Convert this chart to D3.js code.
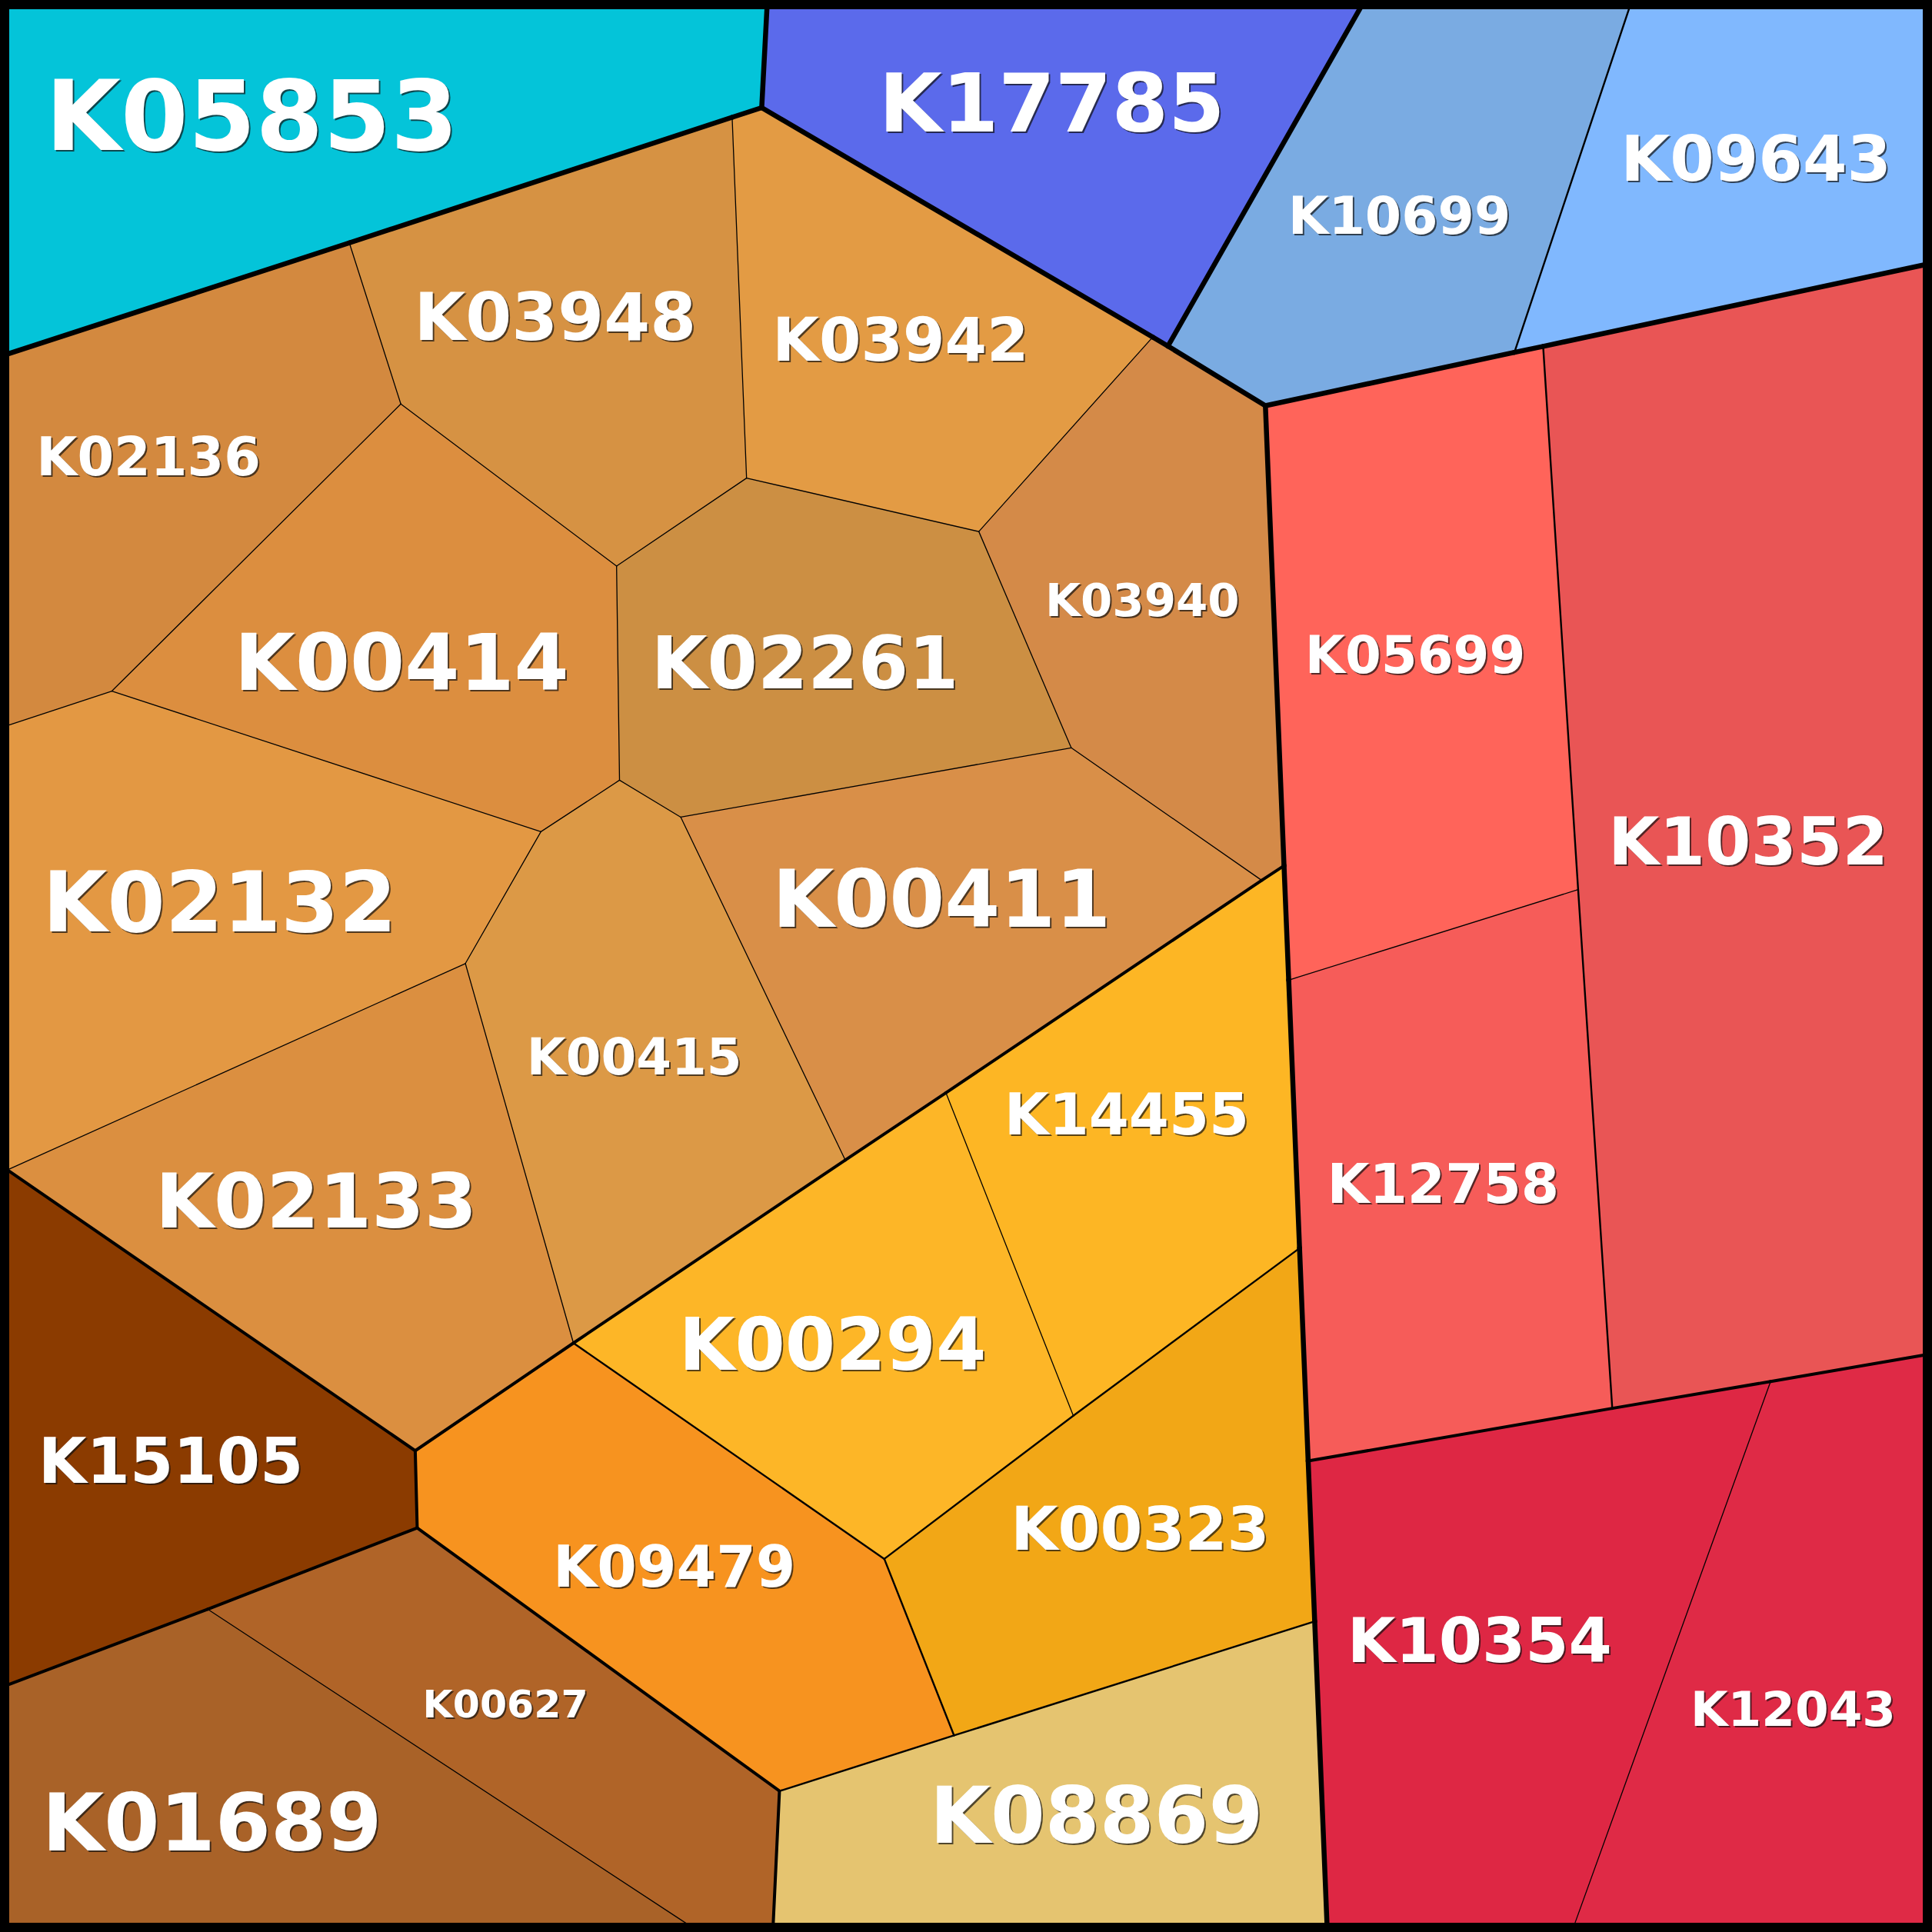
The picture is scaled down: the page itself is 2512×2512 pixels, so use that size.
<!DOCTYPE html>
<html><head><meta charset="utf-8">
<script src="https://cdn.jsdelivr.net/npm/d3@7"></script>
<style>html,body{margin:0;padding:0;background:#fff;}svg{display:block}</style>
</head><body>
<svg id="chart" width="2512" height="2512"></svg>
<script>
// ---- Data (layout space 0..1568 on both axes) ----
// Shared vertices of the Voronoi treemap cells: [id, x, y]
const vertices = [
  ["a0",6,6],["a1",622.5,6],["a2",1104.3,6],["a3",1322.5,6],["a4",1562,6],
  ["r1",1562,214.9],["r2",1562,1099.7],["r3",1562,1562],
  ["b1",1277.8,1562],["b2",1077,1562],["b3",627.5,1562],["b4",558.5,1562],["b5",6,1562],
  ["l1",6,287.4],["l2",6,588.9],["l3",6,949.5],["l4",6,1367.6],
  ["c1",618.2,87.4],["c2",594.2,95.2],["c3",283.5,197.1],
  ["i1",935.5,273.6],["i2",947.9,280.9],
  ["u1",1027,329.3],["u2",1229.1,286.0],["u3",1252.4,281.1],
  ["o1",325.3,327.9],["o2",90.8,560.9],["o3",500.4,459.4],["o4",605.9,388],["o5",794.4,431.4],
  ["o6",869.4,606.9],["o7",552.5,663.2],["o8",502.8,633.2],["o9",439,675],["o10",377.7,782],
  ["o11",1024,714.5],["o12",686,941.5],["o13",465.4,1090],
  ["m1",1042.1,702.6],["m2",1045.9,795.4],["m3",1054.7,1013],["m4",1061.7,1185.7],["m5",1067,1315.9],
  ["y1",767.7,886.9],["y2",871.1,1149],["y3",717.7,1265.2],["y4",774.3,1408.5],["y5",632.6,1453.6],
  ["k1",337,1177.4],["k2",338.6,1240],["k3",168.5,1306],
  ["d1",1280.8,722],["d2",1308.5,1143],["d3",1437,1121.2]
];

const cellNames = ["K05853","K17785","K10699","K09643","K05699","K12758","K10352","K10354","K12043",
  "K02136","K03948","K03942","K03940","K00414","K02261","K02132","K00411","K00415","K02133",
  "K14455","K00294","K00323","K09479","K08869","K15105","K00627","K01689"];

// Each cell's polygon as a ring of vertex ids
const cellRings = [
  "a0 a1 c1 c2 c3 l1","a1 a2 i2 i1 c1","a2 a3 u2 u1 i2","a3 a4 r1 u3 u2",
  "u1 u2 u3 d1 m2 m1","m2 d1 d2 m4 m3","u3 r1 r2 d3 d2 d1","m4 d2 d3 b1 b2 m5","d3 r2 r3 b1",
  "l1 c3 o1 o2 l2","c3 c2 o4 o3 o1","c2 c1 i1 o5 o4","i1 i2 u1 m1 o11 o6 o5","o2 o1 o3 o8 o9",
  "o3 o4 o5 o6 o7 o8","l2 o2 o9 o10 l3","o7 o6 o11 y1 o12","o9 o8 o7 o12 o13 o10","l3 o10 o13 k1",
  "y1 o11 m1 m2 m3 y2","o13 o12 y1 y2 y3","y3 y2 m3 m4 m5 y4","k1 o13 y3 y4 y5 k2","y5 y4 m5 b2 b3",
  "l3 k1 k2 k3 l4","k3 k2 y5 b3 b4","l4 k3 b4 b5"
];

// Hierarchy of each cell (level 1 / level 2 / level 3)
const cellLevel1 = ["Cyan","Indigo","Sky","Sky","Red","Red","Red","Red","Red",
  "Warm","Warm","Warm","Warm","Warm","Warm","Warm","Warm","Warm","Warm",
  "Warm","Warm","Warm","Warm","Warm","Warm","Warm","Warm"];
const cellLevel2 = ["C","I","S","S","R1","R1","R1","R2","R2",
  "Orange","Orange","Orange","Orange","Orange","Orange","Orange","Orange","Orange","Orange",
  "Yellow","Yellow","Yellow","Yellow","Yellow","Umber","Brown","Brown"];
const cellLevel3 = ["C","I","S1","S2","R1a","R1a","R1b","R2a","R2a",
  "O","O","O","O","O","O","O","O","O","O",
  "Ya","Ya","Yb","Yc","Yd","U","B","B"];

// Label sites of each cell
const siteX = [205,854.5,1136.5,1425.5,1149.3,1172,1419,1202,1455.6,
  121.5,451.5,731,928,327.4,654,178.5,765,515.3,257,
  915,677,925.7,548,891,139.3,410.4,173.2];
const siteY = [92.5,81.7,173.8,127.6,530.5,959.9,681.8,1330,1386.1,
  369.4,256,274.4,486.3,536,536.4,730.5,727.7,856.5,973,
  903.7,1089.5,1239.3,1270.6,1472,1184.2,1381.9,1477.3];

const palette = ["#04C4D9","#5B6AEB","#7AABE2","#80B8FE","#FF645A","#F65C59","#E95555","#DE2744","#DF2A46",
  "#D3893F","#D69243","#E39B44","#D48A48","#DC8E3F","#CC8F43","#E39843","#D98F48","#DC9946","#DB8F40",
  "#FDB624","#FDB627","#F2A716","#F7931F","#E5C470","#8B3B00","#B06428","#A96228"];

// ---- Drawing ----
const W = 2512, H = 2512;
const x = d3.scaleLinear().domain([0, 1568]).range([0, W]);
const y = d3.scaleLinear().domain([0, 1568]).range([0, H]);
const color = d3.scaleOrdinal().domain(cellNames).range(palette);
const edgeWidth = d3.scaleOrdinal().domain([0, 1, 2, 3]).range([6.5, 4, 2.4, 1.3]);

const vtx = new Map(vertices.map(v => [v[0], [v[1], v[2]]]));
const cells = cellNames.map((name, i) => {
  const ring = cellRings[i].split(" ");
  return {
    name, ring,
    path: [cellLevel1[i], cellLevel2[i], cellLevel3[i]],
    pts: ring.map(id => { const v = vtx.get(id); return [x(v[0]), y(v[1])]; }),
    site: [x(siteX[i]), y(siteY[i])]
  };
});

const svg = d3.select("#chart");
svg.append("rect").attr("width", W).attr("height", H).attr("fill", "#fff");

svg.append("g").selectAll("path").data(cells).join("path")
  .attr("d", d => d3.line()(d.pts) + "Z")
  .attr("fill", d => color(d.name))
  .attr("stroke", d => color(d.name))
  .attr("stroke-width", 0.6);

// edges shared by two cells; width from depth of lowest common ancestor
const edges = new Map();
cells.forEach(c => {
  c.ring.forEach((a, j) => {
    const b = c.ring[(j + 1) % c.ring.length];
    const key = a < b ? a + "|" + b : b + "|" + a;
    if (!edges.has(key)) edges.set(key, { a, b, cells: [] });
    edges.get(key).cells.push(c);
  });
});
const edgeList = [...edges.values()].filter(e => e.cells.length === 2).map(e => {
  const [p, q] = e.cells;
  let k = 0;
  while (k < 3 && p.path[k] === q.path[k]) k++;
  return { a: vtx.get(e.a), b: vtx.get(e.b), depth: k };
}).sort((u, v) => v.depth - u.depth);

svg.append("g").selectAll("line").data(edgeList).join("line")
  .attr("x1", d => x(d.a[0])).attr("y1", d => y(d.a[1]))
  .attr("x2", d => x(d.b[0])).attr("y2", d => y(d.b[1]))
  .attr("stroke", "#000")
  .attr("stroke-width", d => edgeWidth(d.depth))
  .attr("stroke-linecap", "round");

// outer frame
svg.append("rect").attr("x", 0).attr("y", 0).attr("width", W).attr("height", H)
  .attr("fill", "none").attr("stroke", "#000").attr("stroke-width", 24);

// ---- Labels: fit text box around the site inside the cell ----
const FONT = "'DejaVu Sans', 'Liberation Sans', sans-serif";
const ctx = document.createElement("canvas").getContext("2d");
ctx.font = "bold 100px 'DejaVu Sans'";
function metrics(t) {
  const m = ctx.measureText(t);
  return { left: m.actualBoundingBoxLeft, right: m.actualBoundingBoxRight, asc: m.actualBoundingBoxAscent };
}
function fits(poly, cx, cy, w, h, pad) {
  const n = poly.length;
  const cen = d3.polygonCentroid(poly);
  const corners = [[cx - w / 2, cy - h / 2], [cx + w / 2, cy - h / 2], [cx + w / 2, cy + h / 2], [cx - w / 2, cy + h / 2]];
  for (let i = 0; i < n; i++) {
    const a = poly[i], b = poly[(i + 1) % n];
    const dx = b[0] - a[0], dy = b[1] - a[1], len = Math.hypot(dx, dy);
    if (len < 1e-6) continue;
    const sgn = Math.sign(dx * (cen[1] - a[1]) - dy * (cen[0] - a[0])) || 1;
    for (const c of corners) {
      const dist = sgn * (dx * (c[1] - a[1]) - dy * (c[0] - a[0])) / len;
      if (dist < pad) return false;
    }
  }
  return true;
}
const unit = x(1) - x(0);
cells.forEach(c => {
  const m = metrics(c.name);
  let lo = 4, hi = 400;
  for (let it = 0; it < 40; it++) {
    const fs = (lo + hi) / 2, k = fs / 100;
    const w = (m.left + m.right) * k, h = m.asc * k;
    const pad = 14.5 * unit + 0.3 * fs;
    if (fits(c.pts, c.site[0], c.site[1], w, h, pad)) lo = fs; else hi = fs;
  }
  c.fs = lo;
  const k = lo / 100;
  c.tx = c.site[0] - (m.right - m.left) / 2 * k;
  c.ty = c.site[1] + m.asc * k / 2;
});

const labels = svg.append("g").selectAll("g").data(cells).join("g");
labels.append("text")
  .attr("x", d => d.tx + 2).attr("y", d => d.ty + 2)
  .attr("font-family", FONT).attr("font-weight", "bold")
  .attr("font-size", d => d.fs).attr("fill", "#111").attr("fill-opacity", 0.7)
  .text(d => d.name);
labels.append("text")
  .attr("x", d => d.tx).attr("y", d => d.ty)
  .attr("font-family", FONT).attr("font-weight", "bold")
  .attr("font-size", d => d.fs).attr("fill", "#fff")
  .text(d => d.name);
</script>
</body></html>
